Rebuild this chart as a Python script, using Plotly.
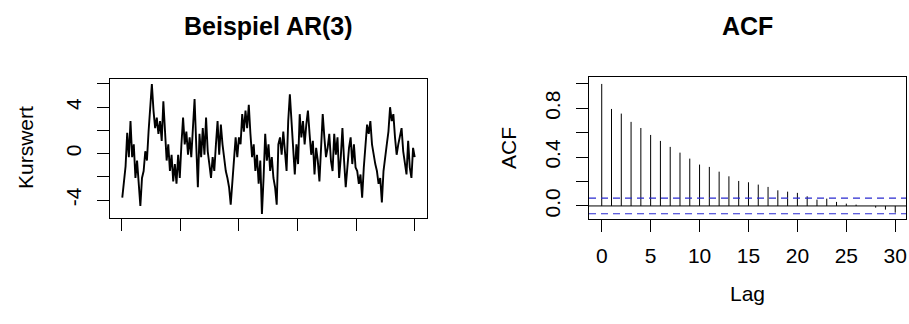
import numpy as np
import plotly.graph_objects as go

# --- Data ---
series_values = [
    -3.8, -2.6, -1.1, 1.8, -0.3, 2.8, -0.3, 0.8, -2.1, -0.6, -2.9, -4.5,
    -2.1, -1.5, 0.2, -0.6, 1.9, 4.2, 6.0, 3.7, 2.2, 3.1, 1.7, 2.8, 1.1, 4.5,
    1.9, -0.6, 0.8, -1.5, -0.1, -2.4, -0.9, -2.6, -0.1, -2.1, 0.8, 3.1, 0.8,
    1.9, -0.1, 1.4, -0.3, 2.2,
    4.7, 0.8, -2.9, 1.7, -0.3, 2.2, -0.1, 3.1, 0.2, -0.9, -2.1, -0.3, -1.5,
    0.8, 2.8, -0.1, 2.5, 0.8, -0.6, -1.5, -2.1, -2.9, -4.4, -2.4, -0.9, 1.4,
    -0.3, 1.4, 0.8, 3.4, 1.9, 3.7, 2.2, 4.2, 1.7, -0.3, 0.8, -1.5, -0.1, -2.6,
    -0.6, -5.2, -2.1, 1.7, -0.6, 0.8,
    -1.5, -0.3, -2.1, -2.9, -4.4, 0.8, 1.4, -0.1, 1.9, 0.5, -1.5, 2.8, 5.1,
    2.8, 0.2, -1.8, 0.8, -0.9, 3.4, 1.4, 2.8, 0.8, 2.5, 3.7, 1.7, -0.1, 1.1,
    -1.8, 0.5, -0.6, -2.4, 0.8, 3.4, 1.4, -0.3, 0.5, 1.7, -0.6, -1.5, 1.7,
    -0.1, 1.4, -2.1, -0.3, 2.2,
    -0.6, -2.9, -1.2, 0.5, 1.4, -0.9, 0.8, -1.2, -1.5, -2.6, -1.8, -3.8, -1.2,
    0.8, 2.5, 1.7, 2.8, 0.8, -0.3, -0.9, -1.5, -2.6, -2.1, -4.2, -1.5, -0.1,
    0.8, 1.9, 4.0, 2.8, 3.4, 1.4, -0.1, 0.8, 1.7, 2.2, 0.2, -0.9, -1.8, 1.1,
    -1.2, -2.1, 0.5, -0.3,
]
n_obs = 500

acf_lags = list(range(0, 31))
acf_values = [
    1.00, 0.795, 0.757, 0.689, 0.639, 0.582, 0.533, 0.484, 0.437, 0.388,
    0.339, 0.320, 0.281, 0.243, 0.205, 0.194, 0.175, 0.156, 0.128, 0.117,
    0.107, 0.079, 0.052, 0.060, 0.033, 0.019, 0.011, 0.000, -0.014, -0.030,
    -0.055,
]
ci_level = 0.064

ts_xticks = [0, 100, 200, 300, 400, 500]
ts_yticks = [-4, -2, 0, 2, 4, 6]
ts_ylabels = ["-4", "", "0", "", "4", ""]
acf_xticks = [0, 5, 10, 15, 20, 25, 30]
acf_yticks = [0.0, 0.2, 0.4, 0.6, 0.8, 1.0]
acf_ylabels = ["0.0", "", "0.4", "", "0.8", ""]

# --- Figure ---
W, H = 909, 324
FONT = "Liberation Sans, Arial, Helvetica, sans-serif"

def px_x(p):
    return p / W

def px_y(p):
    return 1 - p / H

t = np.linspace(1, n_obs, len(series_values))

fig = go.Figure()
fig.add_trace(go.Scatter(x=t, y=series_values, mode="lines",
                         line=dict(color="black", width=1.9),
                         xaxis="x", yaxis="y", showlegend=False,
                         hoverinfo="skip"))

# ACF spikes
sx, sy = [], []
for k, v in zip(acf_lags, acf_values):
    sx += [k, k, None]
    sy += [0, v, None]
fig.add_trace(go.Scatter(x=sx, y=sy, mode="lines",
                         line=dict(color="black", width=1),
                         xaxis="x2", yaxis="y2", showlegend=False,
                         hoverinfo="skip"))

axis_common = dict(showline=True, linecolor="black", linewidth=1, mirror=True,
                   ticks="outside", ticklen=12, tickcolor="black", tickwidth=1,
                   showgrid=False, zeroline=False,
                   tickfont=dict(family=FONT, size=21, color="black"))

fig.update_layout(
    width=W, height=H, margin=dict(l=0, r=0, t=0, b=0),
    paper_bgcolor="white", plot_bgcolor="white",
    xaxis=dict(domain=[px_x(110), px_x(427)], range=[-19.96, 520.96],
               tickvals=ts_xticks, ticktext=[""] * len(ts_xticks),
               anchor="y", **axis_common),
    yaxis=dict(domain=[px_y(218), px_y(79)], range=[-5.55, 6.43],
               tickvals=ts_yticks, ticktext=ts_ylabels, tickangle=-90,
               anchor="x", ticklabelstandoff=8, **axis_common),
    xaxis2=dict(domain=[px_x(589), px_x(906)], range=[-1.3, 31.1],
                tickvals=acf_xticks, anchor="y2", ticklabelstandoff=6,
                **axis_common),
    yaxis2=dict(domain=[px_y(219), px_y(77)], range=[-0.107, 1.057],
                tickvals=acf_yticks, ticktext=acf_ylabels, tickangle=-90,
                anchor="x2", ticklabelstandoff=8, **axis_common),
)

fig.add_shape(type="line", xref="x2 domain", yref="y2", x0=0, x1=1, y0=0, y1=0,
              line=dict(color="black", width=1))
for c in (ci_level, -ci_level):
    fig.add_shape(type="line", xref="x2 domain", yref="y2", x0=0, x1=1,
                  y0=c, y1=c, line=dict(color="#2A2AD0", width=1.2, dash="7px,5px"))

ann = dict(xref="paper", yref="paper", showarrow=False,
           xanchor="center", yanchor="middle")
fig.add_annotation(text="<b>Beispiel AR(3)</b>", x=px_x(268), y=px_y(26),
                   font=dict(family=FONT, size=25, color="black"), **ann)
fig.add_annotation(text="<b>ACF</b>", x=px_x(747), y=px_y(26),
                   font=dict(family=FONT, size=25, color="black"), **ann)
fig.add_annotation(text="Kurswert", x=px_x(25), y=px_y(148), textangle=-90,
                   font=dict(family=FONT, size=21, color="black"), **ann)
fig.add_annotation(text="ACF", x=px_x(508), y=px_y(148), textangle=-90,
                   font=dict(family=FONT, size=21, color="black"), **ann)
fig.add_annotation(text="Lag", x=px_x(747), y=px_y(293),
                   font=dict(family=FONT, size=21, color="black"), **ann)

fig.write_html("out.html", config={"displayModeBar": False})

# remove the browser's default page margin so the figure sits at (0, 0)
with open("out.html", "r", encoding="utf-8") as f:
    html = f.read()
html = html.replace("<head>", "<head><style>html,body{margin:0;padding:0;}</style>", 1)
with open("out.html", "w", encoding="utf-8") as f:
    f.write(html)
